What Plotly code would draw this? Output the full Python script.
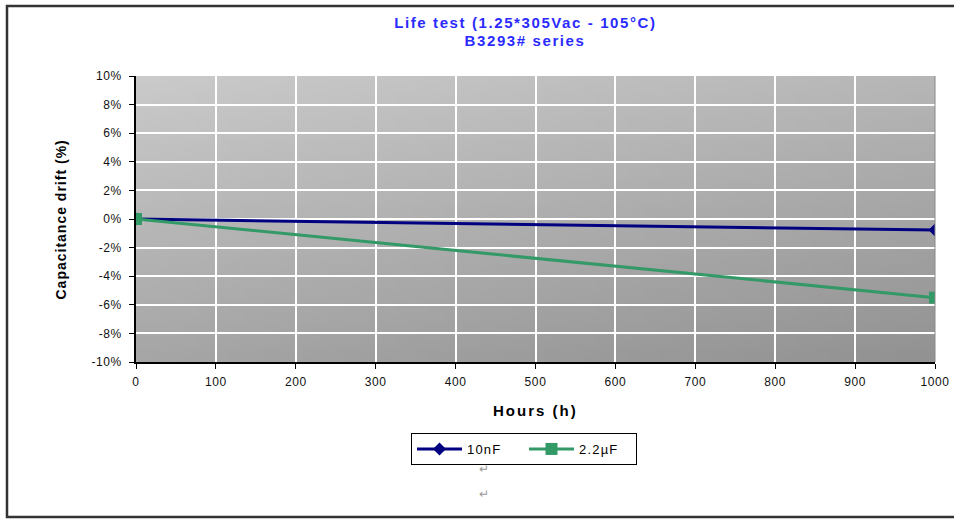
import base64, struct, zlib
import plotly.graph_objects as go

hours = [0, 1000]
drift_10nF = [0.0, -0.77]
drift_2u2F = [0.0, -5.5]
series_names = ["10nF", "2.2µF"]
x_ticks = list(range(0, 1001, 100))
y_ticks = list(range(-10, 11, 2))
y_tick_labels = [f"{v}%" for v in y_ticks]

W, H = 954, 519
L, R, T, B = 136, 19, 76, 157


def px(x):
    return (x - L) / (W - L - R)


def py(y):
    return (H - B - y) / (H - T - B)


def gradient_png(w=48, h=48, c0=202, c1=146):
    rows = b""
    for j in range(h):
        row = b"\x00"
        for i in range(w):
            t = 0.35 * i / (w - 1) + 0.65 * j / (h - 1)
            v = int(round(c0 + (c1 - c0) * t))
            row += bytes([v, v, v])
        rows += row

    def chunk(tag, data):
        c = struct.pack(">I", len(data)) + tag + data
        return c + struct.pack(">I", zlib.crc32(tag + data) & 0xffffffff)

    png = b"\x89PNG\r\n\x1a\n"
    png += chunk(b"IHDR", struct.pack(">IIBBBBB", w, h, 8, 2, 0, 0, 0))
    png += chunk(b"IDAT", zlib.compress(rows))
    png += chunk(b"IEND", b"")
    return "data:image/png;base64," + base64.b64encode(png).decode()


fig = go.Figure()
fig.add_trace(go.Scatter(
    x=hours, y=drift_10nF, name=series_names[0], mode="lines+markers",
    line=dict(color="#000080", width=3),
    marker=dict(symbol="diamond", size=10, color="#000080"),
))
fig.add_trace(go.Scatter(
    x=hours, y=drift_2u2F, name=series_names[1], mode="lines+markers",
    line=dict(color="#339966", width=3),
    marker=dict(symbol="square", size=12, color="#339966"),
))

ARIAL = "Arial, Liberation Sans, sans-serif"
axis_font = dict(family=ARIAL, size=12, color="#111111")

fig.update_layout(
    width=W, height=H,
    margin=dict(l=L, r=R, t=T, b=B),
    paper_bgcolor="#ffffff",
    plot_bgcolor="#b0b0b0",
    font=dict(family=ARIAL, color="#000000"),
    showlegend=True,
    legend=dict(
        orientation="h", x=px(524), xanchor="center", y=py(433), yanchor="top",
        bordercolor="#000000", borderwidth=1, bgcolor="#ffffff",
        font=dict(size=13, family=ARIAL),
        itemwidth=45, tracegroupgap=0, entrywidth=52,
    ),
    xaxis=dict(
        range=[0, 1000], tickvals=x_ticks, ticks="outside", ticklen=5,
        tickcolor="#000000", showline=True, linecolor="#000000", linewidth=1.5,
        showgrid=True, gridcolor="#ffffff", gridwidth=1.5, zeroline=False,
        tickfont=axis_font, automargin=False, ticklabelstandoff=3,
    ),
    yaxis=dict(
        range=[-10, 10], tickmode="array", tickvals=y_ticks, ticktext=y_tick_labels,
        ticks="outside", ticklen=5, tickcolor="#000000", showline=True,
        linecolor="#000000", linewidth=1.5, showgrid=True, gridcolor="#ffffff",
        gridwidth=1.5, zeroline=False, tickfont=axis_font, automargin=False,
        ticklabelstandoff=5,
    ),
    images=[dict(
        source=gradient_png(), xref="paper", yref="paper", x=0, y=1,
        sizex=1, sizey=1, sizing="stretch", layer="below", xanchor="left", yanchor="top",
    )],
)

title_font = dict(family=ARIAL, size=15, color="#2b2bff")
fig.add_annotation(text="<b>Life test (1.25*305Vac - 105°C)</b>", xref="paper", yref="paper",
                   x=px(525), y=py(22), xanchor="center", yanchor="middle",
                   showarrow=False, font=title_font)
fig.add_annotation(text="<b>B3293# series</b>", xref="paper", yref="paper",
                   x=px(525), y=py(40), xanchor="center", yanchor="middle",
                   showarrow=False, font=title_font)
fig.add_annotation(text="<b>Hours (h)</b>", xref="paper", yref="paper",
                   x=px(535), y=py(410), xanchor="center", yanchor="middle",
                   showarrow=False, font=dict(family=ARIAL, size=15))
fig.add_annotation(text="<b>Capacitance drift (%)</b>", xref="paper", yref="paper",
                   x=px(61), y=py(220), xanchor="center", yanchor="middle",
                   showarrow=False, textangle=-90,
                   font=dict(family=ARIAL, size=14))
for yy in (469, 494):
    fig.add_annotation(text="↵", xref="paper", yref="paper", x=px(484), y=py(yy),
                       xanchor="center", yanchor="middle",
                       showarrow=False, font=dict(size=12, color="#999999"))

# right edge of plot area
fig.add_shape(type="line", xref="paper", yref="paper", x0=1, x1=1, y0=0, y1=1,
              line=dict(color="#888888", width=1))
# outer frame
fig.add_shape(type="rect", xref="paper", yref="paper",
              x0=px(7), x1=px(970), y0=py(517), y1=py(6),
              line=dict(color="#333333", width=2.5), layer="above")

post = """
document.body.style.margin='0';document.body.style.padding='0';document.body.style.overflow='hidden';
function spaceText(){
  document.querySelectorAll('.annotation-text').forEach(function(t){
    var s=t.textContent;
    if(s.indexOf('Life')===0){t.style.letterSpacing='1.6px';}
    else if(s.indexOf('B3293')===0){t.style.letterSpacing='1.6px';}
    else if(s.indexOf('Hours')===0){t.style.letterSpacing='2px';}
    else if(s.indexOf('Capac')===0){t.style.letterSpacing='1px';}
  });
  document.querySelectorAll('.xtick text, .ytick text').forEach(function(t){t.style.letterSpacing='0.6px';});
  document.querySelectorAll('.legendtext').forEach(function(t){t.style.letterSpacing='1.2px';});
}
spaceText(); setTimeout(spaceText, 50); setTimeout(spaceText, 300);
"""

fig.write_html("out.html", config={"displayModeBar": False}, post_script=post)
